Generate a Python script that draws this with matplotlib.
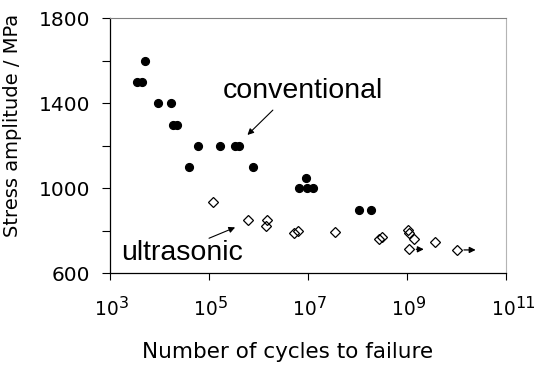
import numpy as np
import matplotlib
matplotlib.use("Agg")
import matplotlib.pyplot as plt
from matplotlib.ticker import NullLocator, FixedLocator, NullFormatter

# conventional fatigue tests (filled circles)
conv_cycles = [5.2e3, 3.55e3, 4.45e3, 9.4e3, 1.72e4, 1.95e4, 2.34e4, 4.1e4, 6.2e4,
               1.7e5, 3.4e5, 4.1e5, 8.0e5, 6.8e6, 9.3e6, 9.9e6, 1.27e7, 1.06e8, 1.92e8]
conv_stress = [1600, 1500, 1500, 1400, 1400, 1300, 1300, 1100, 1200,
               1200, 1200, 1200, 1100, 1000, 1050, 1000, 1000, 900, 900]

# ultrasonic fatigue tests (open diamonds)
us_cycles = [1.25e5, 6.1e5, 1.54e6, 1.45e6, 5.4e6, 6.5e6, 3.6e7, 2.8e8, 3.1e8,
             1.04e9, 1.1e9, 1.37e9, 1.12e9, 3.77e9, 1.03e10]
us_stress = [935, 850, 850, 823, 788, 800, 795, 760, 769,
             804, 788, 760, 713, 747, 710]

# run-outs (no failure): start point and arrow tip
runout_start = [1.12e9, 1.03e10]
runout_end = [2.2e9, 2.45e10]
runout_stress = [713, 710]

x_exponents = [3, 5, 7, 9, 11]
y_ticks = [600, 800, 1000, 1200, 1400, 1600, 1800]
y_labels = ["600", "", "1000", "", "1400", "", "1800"]

plt.rcParams['font.family'] = ['DejaVu Sans']

fig = plt.figure(figsize=(5.44, 3.72), dpi=100)
ax = fig.add_axes([0.2013, 0.2653, 0.7287, 0.6855])

ax.plot(conv_cycles, conv_stress, 'o', color='black', markersize=5.6, linestyle='none')
ax.plot(us_cycles, us_stress, 'D', markerfacecolor='none', markeredgecolor='black',
        markeredgewidth=0.9, markersize=5.2, linestyle='none')

for x0, x1, s in zip(runout_start, runout_end, runout_stress):
    ax.annotate("", xy=(x1, s), xytext=(x0, s),
                arrowprops=dict(arrowstyle='-|>', color='black', lw=0.9,
                                mutation_scale=9, shrinkA=5, shrinkB=0))

ax.set_xscale('log')
ax.set_xlim(1e3, 1e11)
ax.set_ylim(600, 1800)

ax.xaxis.set_major_locator(FixedLocator([10.0 ** e for e in x_exponents]))
ax.xaxis.set_minor_locator(NullLocator())
ax.xaxis.set_major_formatter(NullFormatter())
ax.set_yticks(y_ticks)
ax.set_yticklabels(y_labels, fontsize=14.5)
ax.tick_params(axis='y', direction='out', length=5.8, width=0.8, pad=8.0)
ax.tick_params(axis='x', direction='out', length=4.7, width=0.8)

# x tick labels drawn as "10" with a large superscript
for e in x_exponents:
    ax.annotate("10", xy=(10.0 ** e, 0), xycoords=('data', 'axes fraction'),
                xytext=(-2.5, -41.5), textcoords='offset pixels',
                ha='center', va='baseline', fontsize=13.5, annotation_clip=False)
    ax.annotate(str(e), xy=(10.0 ** e, 0), xycoords=('data', 'axes fraction'),
                xytext=(9.5, -34.5), textcoords='offset pixels',
                ha='left', va='baseline', fontsize=11.5, annotation_clip=False)

for side in ['left', 'bottom']:
    ax.spines[side].set_color('black')
    ax.spines[side].set_linewidth(0.9)
ax.spines['top'].set_color('#808080')
ax.spines['right'].set_color('#b4b4b4')

ax.set_ylabel("Stress amplitude / MPa", fontsize=14)
ax.yaxis.set_label_coords(-0.22, 0.58)
ax.set_xlabel("Number of cycles to failure", fontsize=15.5)
ax.xaxis.set_label_coords(0.45, -0.27)

ax.text(8.1e6, 1423, "conventional", ha='center', va='baseline', fontsize=20.5,
        family='Liberation Sans')
ax.annotate("", xy=(6.08e5, 1251), xytext=(1.98e6, 1368),
            arrowprops=dict(arrowstyle='-|>', color='black', lw=0.8,
                            mutation_scale=9, shrinkA=0, shrinkB=0))
ax.text(2.9e4, 663, "ultrasonic", ha='center', va='baseline', fontsize=20.5,
        family='Liberation Sans')
ax.annotate("", xy=(3.43e5, 816), xytext=(1.02e5, 765),
            arrowprops=dict(arrowstyle='-|>', color='black', lw=0.8,
                            mutation_scale=9, shrinkA=0, shrinkB=0))

fig.savefig("out.png", dpi=100)
